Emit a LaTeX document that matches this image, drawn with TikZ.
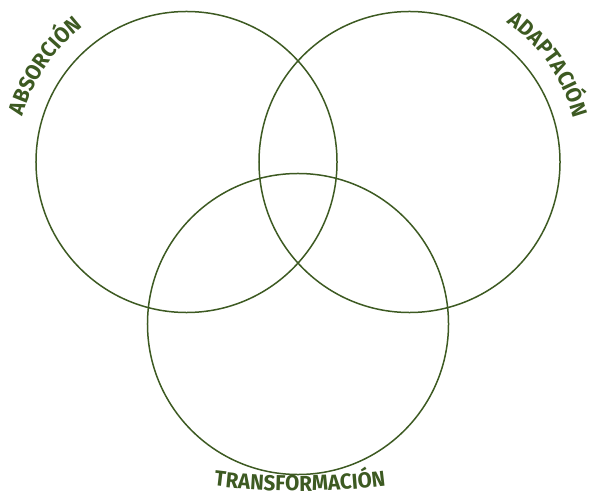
\documentclass[tikz,border=0pt]{standalone}
\usepackage{fontspec}
\setmainfont{Fira Sans}
\newfontfamily\lblfont[FakeStretch=0.95]{Fira Sans}
\usetikzlibrary{decorations.text}
\definecolor{vgreen}{HTML}{3D5A22}

\begin{document}
\begin{tikzpicture}[x=0.03cm,y=0.03cm,
  ring/.style={draw=vgreen,line width=0.045cm,circle,inner sep=0pt,minimum size=9.03cm},
  lbl/.style={decorate,decoration={text along path,text align=center,
    text={|\color{vgreen}\lblfont\fontsize{18.5}{18.5}\selectfont\bfseries|#1}}}]
\useasboundingbox (0,0) rectangle (591,498);
\node[ring](absorcion) at (186.5,336){};
\node[ring](adaptacion) at (409.5,336){};
\node[ring](transformacion) at (298,174){};
% labels along the rings
\path[lbl=ABSORCIÓN] (absorcion.center) ++(176:170) arc[start angle=176,end angle=116,radius=170];
\path[lbl=ADAPTACIÓN] (adaptacion.center) ++(66:170) arc[start angle=66,end angle=4,radius=170];
\path[lbl=TRANSFORMACIÓN] (300,707) ++(260:700) arc[start angle=260,end angle=280,radius=700];
\end{tikzpicture}
\end{document}
